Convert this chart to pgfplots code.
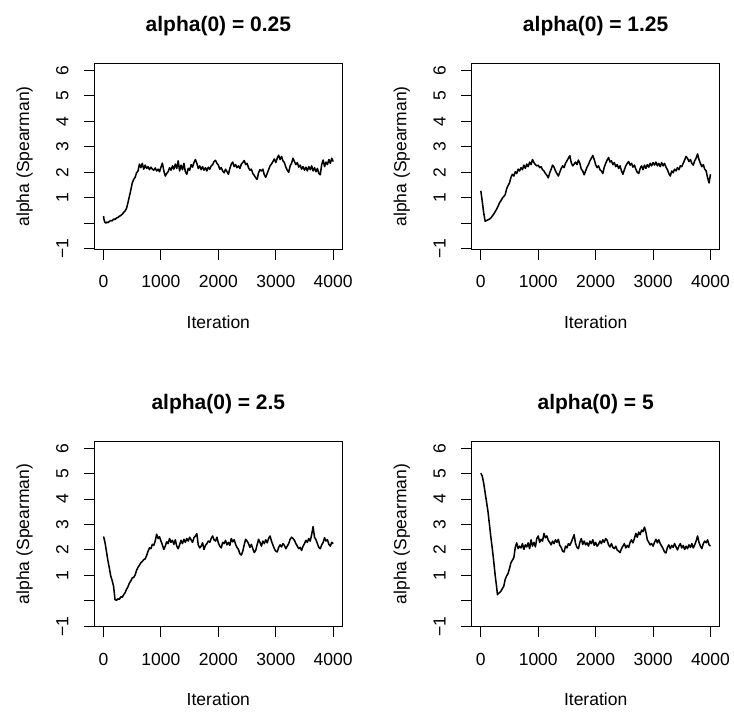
\documentclass[border=0pt]{standalone}
\usepackage{pgfplots}
\pgfplotsset{compat=1.18}
\usepackage{fontspec}
\setmainfont{Liberation Sans}
\pgfplotsset{
  panel/.style={
    scale only axis, width=170.06pt, height=127.2pt,
    xmin=-160, xmax=4160, ymin=-1.02, ymax=6.27,
    xtick={0,1000,2000,3000,4000},
    ytick={-1,0,1,2,3,4,5,6},
    yticklabels={−1,,1,2,3,4,5,6},
    tick pos=left,
    tick align=outside, major tick length=7.2pt,
    every tick/.style={black, line width=0.7pt},
    axis line style={line width=0.7pt},
    /pgf/number format/assume math mode=true,
    scaled ticks=false,
    xticklabel style={/pgf/number format/1000 sep={}},
    tick label style={font=\fontsize{12}{14.4}\selectfont},
    xticklabel style={anchor=base, yshift=-19.3pt},
    yticklabel style={rotate=90, anchor=base, yshift=10.6pt},
    label style={font=\fontsize{12}{14.4}\selectfont},
    xlabel={Iteration},
    ylabel={alpha (Spearman)},
    xlabel style={at={(axis description cs:0.5,-0.426)}, anchor=base},
    ylabel style={at={(axis description cs:-0.263,0.5)}, anchor=base},
    title style={at={(axis description cs:0.5,1.125)}, anchor=base,
      font=\bfseries\fontsize{14.4}{17.3}\selectfont},
    trace/.style={black, line width=1.05pt, mark=none, line join=round},
  }
}
\begin{document}
\begin{tikzpicture}
\path[use as bounding box] (0,0) rectangle (503.3pt,490.3pt);
% ---------- panel 1 ----------
\begin{axis}[panel, at={(64.7pt,319.5pt)}, title={alpha(0) = 0.25}]
\addplot[trace] table {
x y
0 0.28
10 0.12
25 0.03
40 0.00
60 0.04
80 0.02
100 0.07
125 0.10
150 0.09
175 0.16
200 0.14
225 0.20
250 0.22
275 0.27
300 0.30
325 0.35
350 0.42
375 0.48
400 0.58
425 0.80
450 1.05
475 1.30
500 1.58
525 1.72
550 1.80
575 1.98
600 2.05
625 2.32
650 2.18
675 2.35
700 2.12
725 2.28
750 2.15
775 2.22
800 2.10
825 2.20
850 2.12
875 2.08
900 2.17
925 2.05
950 2.12
975 2.02
1000 2.20
1025 2.36
1050 2.05
1075 1.85
1100 1.95
1125 2.02
1150 2.18
1175 2.08
1200 2.25
1225 2.12
1250 2.32
1275 2.15
1300 2.45
1325 2.05
1350 2.28
1375 2.10
1400 2.35
1425 2.02
1450 1.92
1475 2.15
1500 2.08
1525 2.30
1550 2.20
1575 2.38
1600 2.50
1625 2.35
1650 2.15
1675 2.25
1700 2.10
1725 2.22
1750 2.08
1775 2.18
1800 2.05
1825 2.20
1850 2.12
1875 2.25
1900 2.30
1925 2.42
1950 2.47
1975 2.35
2000 2.28
2025 2.12
2050 2.18
2075 2.05
2100 1.98
2125 2.12
2150 2.02
2175 1.92
2200 2.15
2225 2.32
2250 2.40
2275 2.22
2300 2.30
2325 2.18
2350 2.25
2375 2.15
2400 2.32
2425 2.38
2450 2.46
2475 2.30
2500 2.35
2525 2.18
2550 2.08
2575 2.12
2600 1.95
2625 1.88
2650 1.78
2675 1.72
2700 1.98
2725 2.10
2750 2.05
2775 2.12
2800 1.90
2825 1.80
2850 1.95
2875 2.10
2900 2.25
2925 2.32
2950 2.42
2975 2.52
3000 2.38
3025 2.55
3050 2.67
3075 2.50
3100 2.62
3125 2.45
3150 2.38
3175 2.20
3200 2.08
3225 2.00
3250 2.25
3275 2.35
3300 2.55
3325 2.42
3350 2.30
3375 2.38
3400 2.20
3425 2.28
3450 2.12
3475 2.22
3500 2.08
3525 2.20
3550 2.05
3575 2.22
3600 2.10
3625 2.25
3650 2.05
3675 2.18
3700 2.02
3725 2.15
3750 1.95
3775 1.90
3800 2.30
3825 2.48
3850 2.22
3875 2.40
3900 2.30
3925 2.50
3950 2.35
3975 2.55
4000 2.42
};
\end{axis}
% ---------- panel 2 ----------
\begin{axis}[panel, at={(323.4pt,319.5pt)}, title={alpha(0) = 1.25}]
\addplot[trace] table {
x y
0 1.27
25 0.85
50 0.40
75 0.08
100 0.10
125 0.13
150 0.16
175 0.20
200 0.28
225 0.36
250 0.45
275 0.55
300 0.66
325 0.80
350 0.88
375 0.98
400 1.05
425 1.12
450 1.35
475 1.48
500 1.58
525 1.80
550 1.92
575 1.85
600 2.02
625 1.95
650 2.12
675 2.05
700 2.18
725 2.10
750 2.28
775 2.15
800 2.32
825 2.22
850 2.40
875 2.30
900 2.50
925 2.38
950 2.30
975 2.25
1000 2.28
1025 2.18
1050 2.22
1075 2.10
1100 2.05
1125 1.95
1150 1.88
1175 1.78
1200 1.98
1225 2.12
1250 2.28
1275 2.20
1300 2.05
1325 1.95
1350 1.85
1375 2.00
1400 2.15
1425 2.25
1450 2.18
1475 2.35
1500 2.45
1525 2.55
1550 2.65
1575 2.38
1600 2.25
1625 2.32
1650 2.40
1675 2.30
1700 2.48
1725 2.35
1750 2.12
1775 2.05
1800 1.90
1825 2.05
1850 2.20
1875 2.30
1900 2.45
1925 2.55
1950 2.66
1975 2.50
2000 2.30
2025 2.18
2050 2.25
2075 2.10
2100 2.05
2125 1.95
2150 2.20
2175 2.35
2200 2.48
2225 2.58
2250 2.40
2275 2.45
2300 2.30
2325 2.38
2350 2.22
2375 2.30
2400 2.15
2425 2.25
2450 2.05
2475 1.92
2500 2.10
2525 2.25
2550 2.35
2575 2.42
2600 2.28
2625 2.35
2650 2.20
2675 2.28
2700 2.12
2725 2.00
2750 1.95
2775 2.15
2800 2.25
2825 2.10
2850 2.28
2875 2.15
2900 2.30
2925 2.20
2950 2.35
2975 2.25
3000 2.38
3025 2.28
3050 2.40
3075 2.25
3100 2.35
3125 2.22
3150 2.38
3175 2.25
3200 2.35
3225 2.20
3250 2.10
3275 1.95
3300 1.85
3325 2.05
3350 1.98
3375 2.12
3400 2.05
3425 2.18
3450 2.10
3475 2.25
3500 2.22
3525 2.35
3550 2.48
3575 2.62
3600 2.55
3625 2.42
3650 2.50
3675 2.35
3700 2.28
3725 2.45
3750 2.55
3775 2.72
3800 2.50
3825 2.35
3850 2.22
3875 2.30
3900 2.12
3925 2.05
3950 1.78
3975 1.58
4000 1.92
};
\end{axis}
% ---------- panel 3 ----------
\begin{axis}[panel, at={(64.7pt,60.5pt)}, title={alpha(0) = 2.5}]
\addplot[trace] table {
x y
0 2.53
25 2.30
50 1.95
75 1.60
100 1.30
125 0.98
150 0.80
175 0.57
200 0.05
225 0.02
250 0.08
275 0.06
300 0.16
325 0.14
350 0.24
375 0.32
400 0.45
425 0.55
450 0.70
475 0.78
500 0.90
525 0.92
550 1.02
575 1.20
600 1.32
625 1.40
650 1.50
675 1.55
700 1.62
725 1.65
750 1.78
775 1.95
800 2.08
825 2.05
850 2.22
875 2.18
900 2.35
925 2.62
950 2.45
975 2.52
1000 2.35
1025 2.20
1050 2.02
1075 2.15
1100 2.32
1125 2.25
1150 2.45
1175 2.30
1200 2.38
1225 2.22
1250 2.40
1275 2.15
1300 2.05
1325 2.20
1350 2.38
1375 2.25
1400 2.42
1425 2.30
1450 2.45
1475 2.35
1500 2.50
1525 2.40
1550 2.30
1575 2.48
1600 2.55
1625 2.64
1650 2.20
1675 2.08
1700 2.15
1725 2.28
1750 2.02
1775 2.18
1800 2.25
1825 2.35
1850 2.30
1875 2.45
1900 2.55
1925 2.40
1950 2.35
1975 2.50
2000 2.28
2025 2.15
2050 2.08
2075 2.30
2100 2.25
2125 2.38
2150 2.20
2175 2.30
2200 2.18
2225 2.45
2250 2.32
2275 2.40
2300 2.22
2325 2.10
2350 2.02
2375 1.85
2400 1.80
2425 1.95
2450 2.20
2475 2.42
2500 2.35
2525 2.25
2550 2.10
2575 2.22
2600 2.05
2625 1.90
2650 1.98
2675 2.20
2700 2.42
2725 2.30
2750 2.15
2775 2.35
2800 2.25
2825 2.40
2850 2.28
2875 2.45
2900 2.55
2925 2.35
2950 2.20
2975 2.05
3000 1.95
3025 1.92
3050 2.10
3075 2.20
3100 2.12
3125 2.25
3150 2.18
3175 2.05
3200 2.15
3225 2.25
3250 2.42
3275 2.50
3300 2.45
3325 2.38
3350 2.25
3375 2.15
3400 2.05
3425 2.10
3450 1.98
3475 2.15
3500 2.25
3525 2.38
3550 2.30
3575 2.45
3600 2.35
3625 2.60
3650 2.92
3675 2.50
3700 2.40
3725 2.25
3750 2.10
3775 2.05
3800 2.20
3825 2.30
3850 2.48
3875 2.35
3900 2.40
3925 2.22
3950 2.15
3975 2.30
4000 2.25
};
\end{axis}
% ---------- panel 4 ----------
\begin{axis}[panel, at={(323.4pt,60.5pt)}, title={alpha(0) = 5}]
\addplot[trace] table {
x y
0 5.02
25 4.90
50 4.62
75 4.25
100 3.88
125 3.50
150 3.00
175 2.50
200 2.05
225 1.55
250 1.00
275 0.55
290 0.24
300 0.28
325 0.32
350 0.38
375 0.48
400 0.58
425 0.85
450 0.98
475 1.08
500 1.28
525 1.50
550 1.60
575 1.70
600 2.10
625 2.28
650 2.05
675 2.15
700 2.08
725 2.25
750 2.02
775 2.20
800 2.12
825 2.28
850 2.05
875 2.40
900 2.15
925 2.30
950 2.12
975 2.45
1000 2.55
1025 2.30
1050 2.42
1075 2.35
1100 2.65
1125 2.48
1150 2.55
1175 2.38
1200 2.30
1225 2.20
1250 2.35
1275 2.25
1300 2.40
1325 2.30
1350 2.42
1375 2.18
1400 2.10
1425 1.95
1450 1.92
1475 2.15
1500 2.08
1525 2.25
1550 2.18
1575 2.30
1600 2.45
1625 2.60
1650 2.25
1675 2.10
1700 2.05
1725 2.30
1750 2.45
1775 2.22
1800 2.35
1825 2.20
1850 2.28
1875 2.15
1900 2.35
1925 2.25
1950 2.40
1975 2.18
2000 2.30
2025 2.15
2050 2.22
2075 2.35
2100 2.25
2125 2.40
2150 2.30
2175 2.45
2200 2.38
2225 2.20
2250 2.12
2275 2.25
2300 2.10
2325 2.05
2350 2.15
2375 2.00
2400 1.95
2425 1.90
2450 2.05
2475 2.15
2500 2.25
2525 2.08
2550 2.18
2575 2.10
2600 2.30
2625 2.40
2650 2.28
2675 2.45
2700 2.65
2725 2.50
2750 2.70
2775 2.60
2800 2.78
2825 2.72
2850 2.90
2875 2.70
2900 2.40
2925 2.30
2950 2.20
2975 2.25
3000 2.15
3025 2.30
3050 2.42
3075 2.28
3100 2.40
3125 2.25
3150 2.15
3175 2.05
3200 1.92
3225 1.88
3250 2.10
3275 2.20
3300 2.05
3325 2.18
3350 2.10
3375 2.25
3400 2.12
3425 2.00
3450 2.15
3475 2.25
3500 2.08
3525 2.18
3550 2.02
3575 2.15
3600 2.05
3625 2.20
3650 2.10
3675 2.25
3700 2.08
3725 2.20
3750 2.35
3775 2.55
3800 2.30
3825 2.15
3850 2.05
3875 2.25
3900 2.35
3925 2.28
3950 2.40
3975 2.20
4000 2.15
};
\end{axis}
\end{tikzpicture}
\end{document}
